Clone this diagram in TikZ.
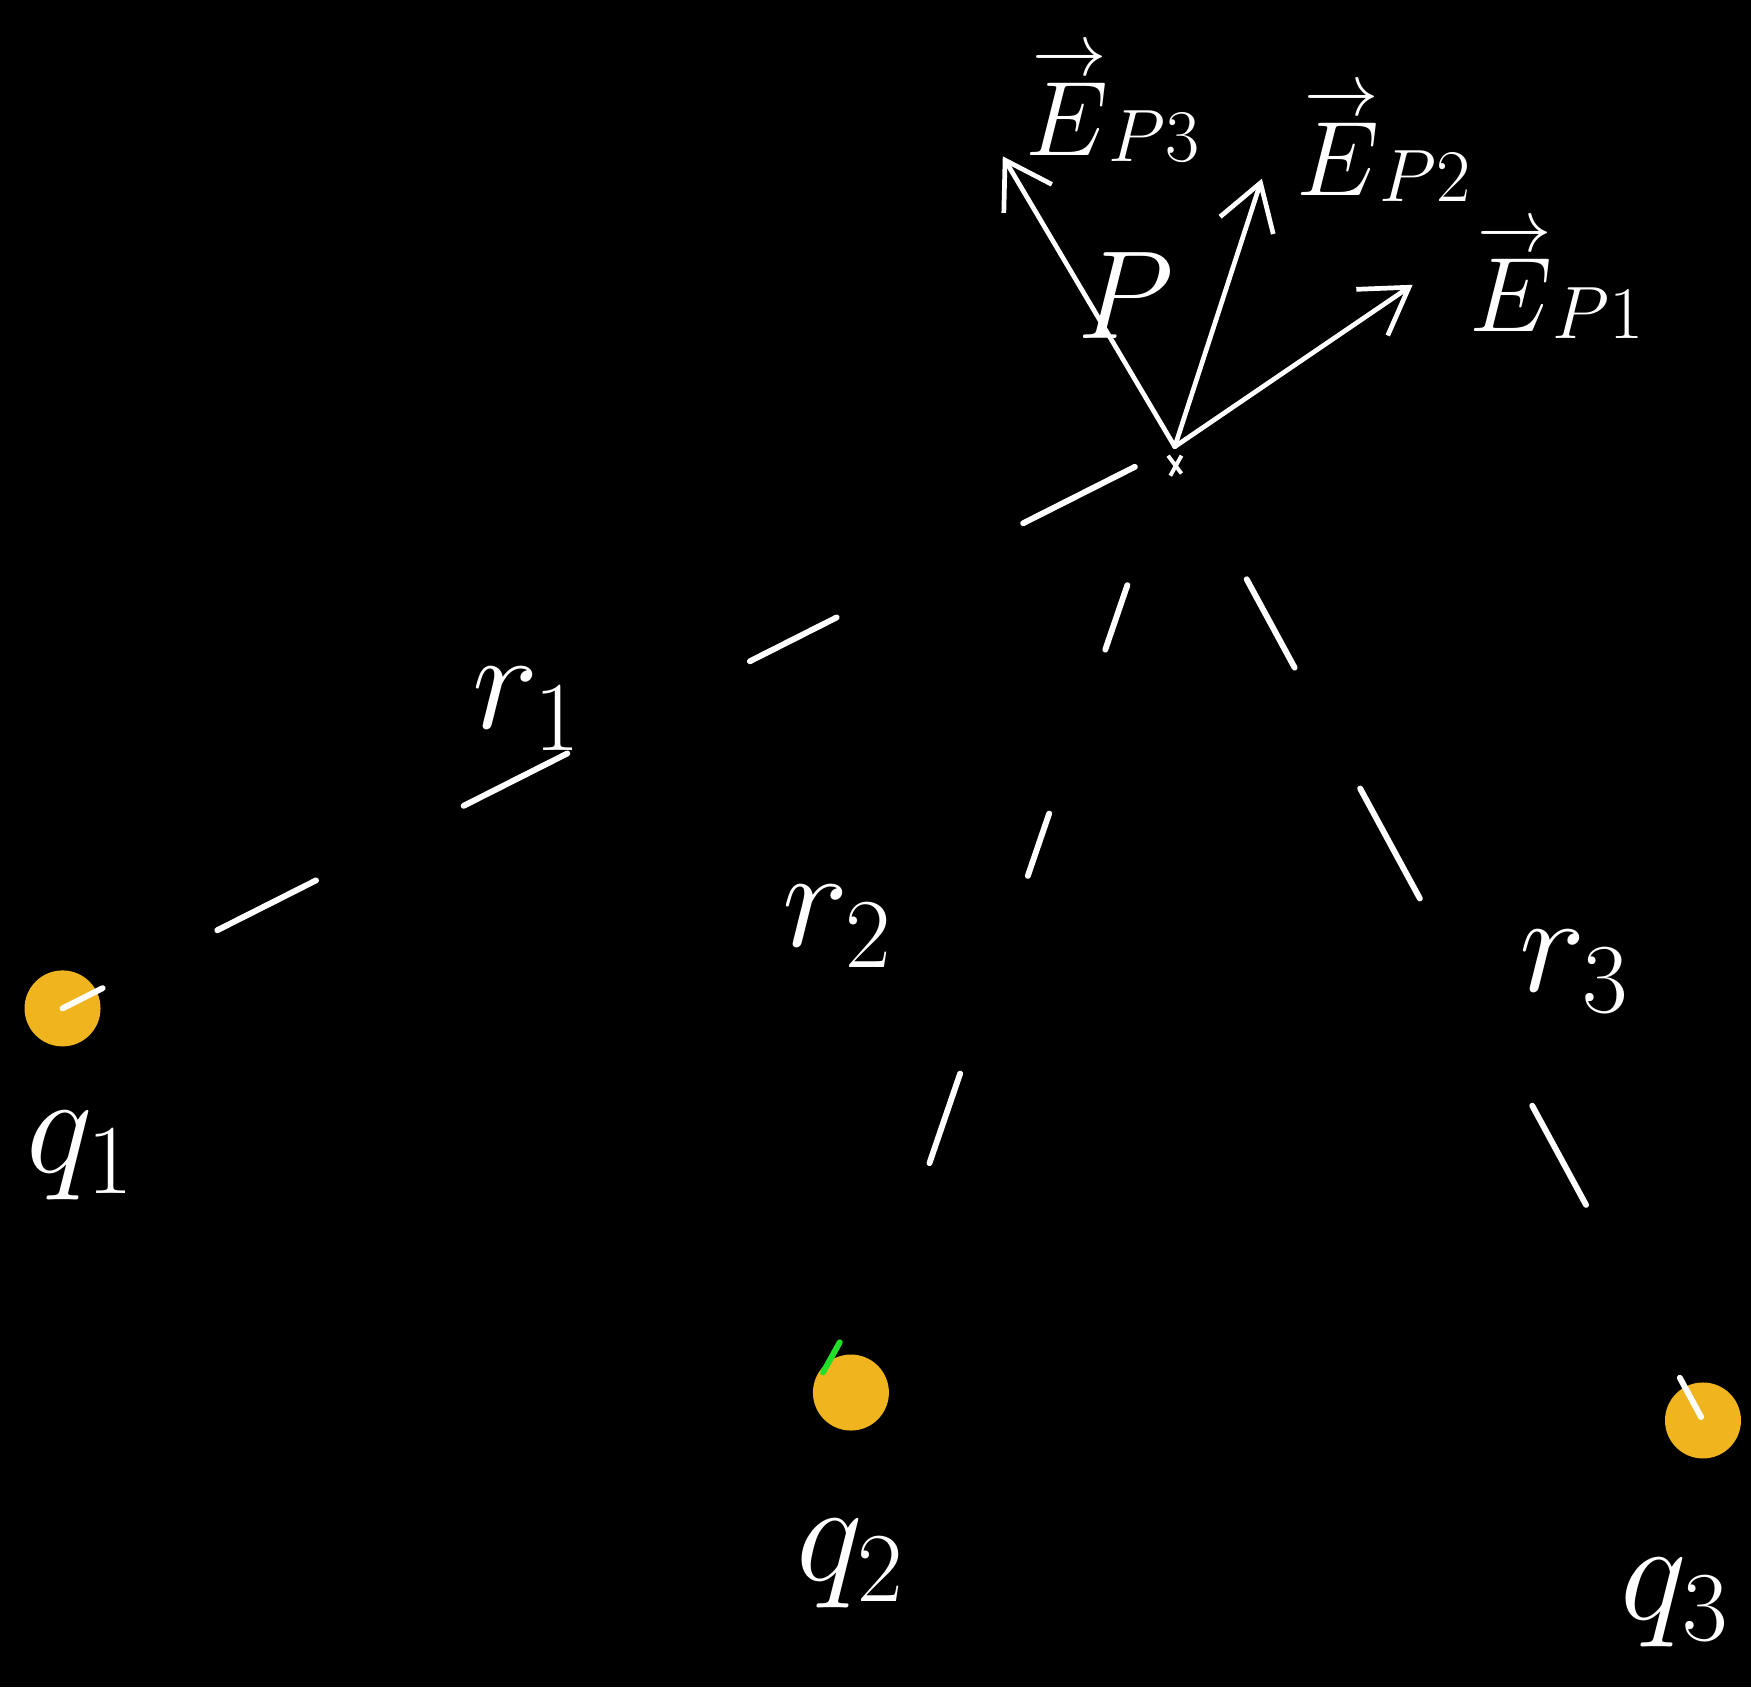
\RequirePackage{fix-cm}
\documentclass[tikz,border=0pt]{standalone}
\usetikzlibrary{arrows.meta}
\definecolor{chargeorange}{HTML}{F0B41E}
\definecolor{tickgreen}{HTML}{22E02A}
\tikzset{
  charge/.style={circle, fill=chargeorange, minimum size=0.68cm, inner sep=0pt},
  field/.style={white, line width=1.2pt, line cap=round,
    -{Straight Barb[length=4mm, width=5mm, line width=1.2pt]}},
  distline/.style={white, line width=1.5pt, line cap=round},
  bigtxt/.style={text=white, font=\fontsize{36}{42}\selectfont},
  fieldtxt/.style={text=white, inner sep=1pt, font=\fontsize{27}{32}\selectfont},
}
\newcommand{\fieldvec}[1]{\stackrel{\rightarrow}{E}_{#1}}
\begin{document}
\begin{tikzpicture}[x=0.01cm, y=-0.01cm]
  \fill[black] (0,0) rectangle (1568,1511);
  \useasboundingbox (0,0) rectangle (1568,1511);

  % 电荷
  \node[charge] (q1) at (56,903) {};
  \node[charge] (q2) at (762,1247) {};
  \node[charge] (q3) at (1525,1272) {};
  \node[bigtxt] (q1lbl) at (72,1035) {$q_1$};
  \node[bigtxt] (q2lbl) at (762,1400) {$q_2$};
  \node[bigtxt] (q3lbl) at (1500,1435) {$q_3$};

  % 点 P 与场强
  \coordinate (P) at (1052,400);
  \draw[white, line width=1pt] (P) ++(-6,8) -- ++(12,16) (P) ++(6,8) -- ++(-10,18);
  \node[bigtxt, font=\fontsize{32}{38}\selectfont] (Plbl) at (1008,265) {$P$};
  \coordinate (tip3) at (898,140);
  \coordinate (tip2) at (1130,160);
  \coordinate (tip1) at (1265,255);
  \draw[field] (P) -- (tip3);
  \draw[field] (P) -- (tip2);
  \draw[field] (P) -- (tip1);
  \node[fieldtxt] (E3) at (997,92) {$\fieldvec{P3}$};
  \node[fieldtxt] (E2) at (1240,128) {$\fieldvec{P2}$};
  \node[fieldtxt] (E1) at (1395,250) {$\fieldvec{P1}$};

  % 距离
  \draw[distline, shorten <=0.4cm,
    dash pattern=on 1.12cm off 1.87cm on 0.87cm off 1.83cm on 1.04cm off 1.48cm on 0.99cm off 1.15cm on 0.5cm off 1cm]
    (P) -- (q1.center);
  \draw[distline, shorten <=1.31cm, shorten >=2.17cm,
    dash pattern=on 0.61cm off 1.55cm on 0.59cm off 1.87cm on 0.85cm off 3cm]
    (P) -- (q2.center);
  \draw[distline, shorten <=1.35cm,
    dash pattern=on 0.9cm off 1.23cm on 1.12cm off 2.11cm on 1.01cm off 1.76cm on 0.4cm off 1cm]
    (P) -- (q3.center);
  \draw[tickgreen, line width=1.5pt, line cap=round] ([shift={(-10,-45)}]q2.center) -- ([shift={(-25,-18)}]q2.center);
  \node[bigtxt] (r1) at (472,635) {$r_1$};
  \node[bigtxt] (r2) at (750,830) {$r_2$};
  \node[bigtxt] (r3) at (1410,870) {$r_3$};
\end{tikzpicture}
\end{document}
